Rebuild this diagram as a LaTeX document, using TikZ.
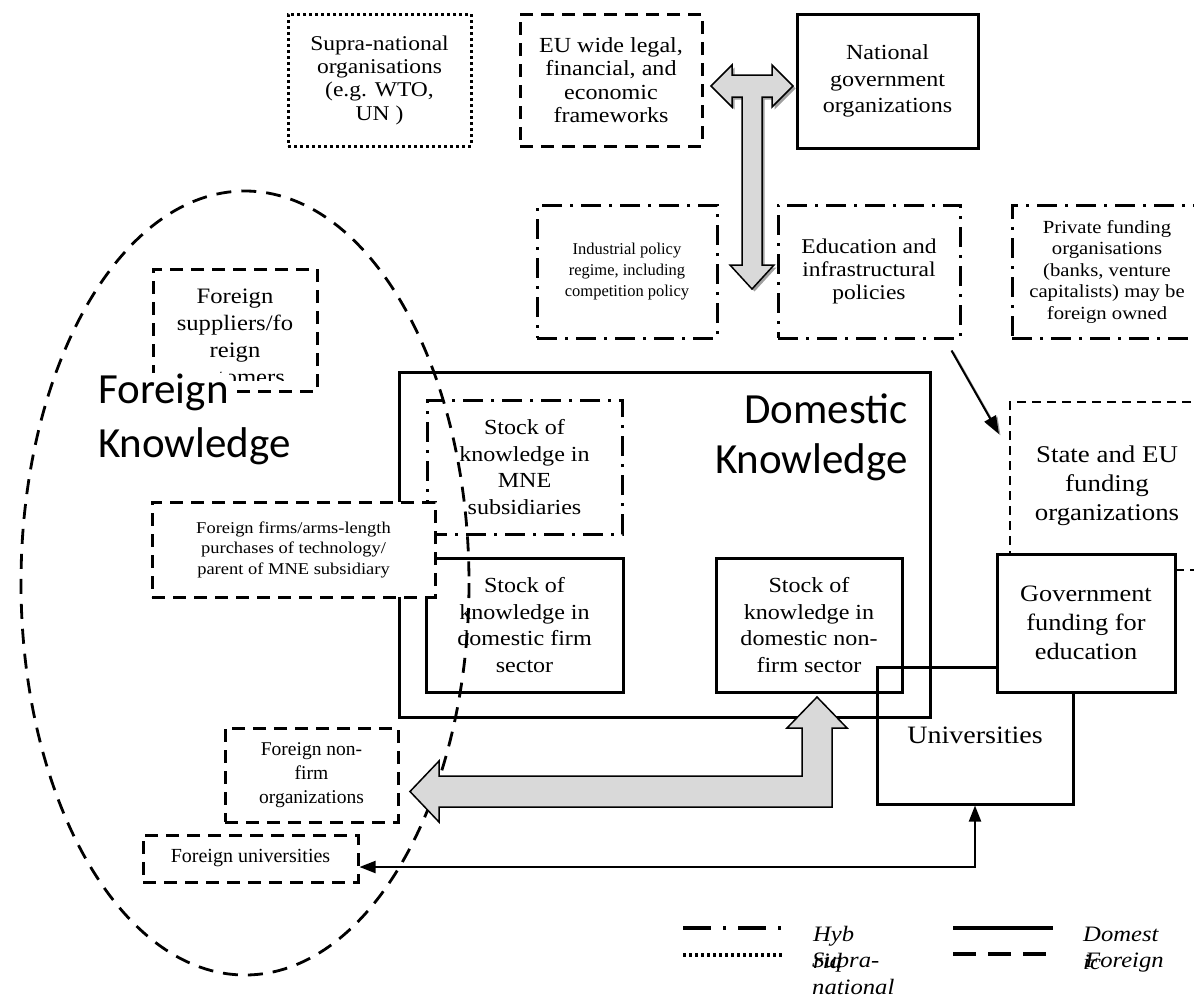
\documentclass[tikz,border=0pt]{standalone}
\usepackage{fontspec}
\setmainfont[FakeStretch=1.12]{Liberation Serif}
\newfontfamily\narrowserif{Liberation Serif}
\newfontfamily\labelsans{Carlito}
\usetikzlibrary{arrows.meta}
\definecolor{arrowgrey}{HTML}{D9D9D9}
\definecolor{shadowgrey}{HTML}{A0A0A0}

\tikzset{
  every node/.style={inner sep=0pt, align=center},
  boxsize/.style 2 args={minimum width=#1, minimum height=#2},
  domesticbox/.style={draw, line width=3pt},
  foreignbox/.style={draw, line width=3pt, dash pattern=on 13pt off 8pt},
  fundbox/.style={draw, line width=2pt, dash pattern=on 9pt off 6pt},
  hybridbox/.style={draw, line width=3pt, dash pattern=on 20pt off 8pt on 3pt off 8pt},
  suprabox/.style={draw, line width=3pt, dash pattern=on 3pt off 3pt},
  foreignline/.style={line width=2.8pt, dash pattern=on 15pt off 10pt},
  bigarrow/.style={fill=arrowgrey, draw=black, line width=1.5pt, line join=miter},
  thinarrow/.style={-{Triangle[length=18pt,width=13pt]}, line width=2pt},
  linkarrow/.style={{Triangle[length=16pt,width=12pt]}-{Triangle[length=16pt,width=12pt]}, line width=2pt},
  bigtext/.style={font=\labelsans\fontsize{43}{50}\selectfont},
  legendtext/.style={font=\itshape\fontsize{22}{27}\selectfont, anchor=base west},
}

% block arrow outlines
\newcommand\policyarrow{(711,86) -- (732,65) -- (732,75) -- (772,75) -- (772,65) -- (793,86)
  -- (772,107) -- (772,97) -- (762,97) -- (762,265) -- (774,265) -- (752,289) -- (730,265)
  -- (742,265) -- (742,97) -- (732,97) -- (732,107) -- cycle}
\newcommand\spilloverarrow{(817,697) -- (847,728) -- (832,728) -- (832,807) -- (439,807)
  -- (439,822) -- (410,791.5) -- (439,761) -- (439,776) -- (802,776) -- (802,728)
  -- (787,728) -- cycle}

\begin{document}
\begin{tikzpicture}[x=1pt, y=-1pt]
\useasboundingbox (0,0) rectangle (1194,1002);

% top row: frameworks and government
\node[suprabox, boxsize={183pt}{132pt}, font=\fontsize{21}{23.3}\selectfont] (supra) at (379.5,80)
  {Supra-national\\organisations\\(e.g. WTO,\\UN )};
\node[foreignbox, boxsize={182pt}{132pt}, font=\fontsize{21.5}{23.3}\selectfont] (euframe) at (611,80)
  {EU wide legal,\\financial, and\\economic\\frameworks};
\node[domesticbox, boxsize={181pt}{134pt}, font=\fontsize{21.5}{26.7}\selectfont] (natgov) at (887.5,81)
  {National\\government\\organizations};

% policy row
\node[hybridbox, boxsize={180pt}{133pt}, font=\narrowserif\fontsize{16.5}{21}\selectfont] (indpolicy) at (627,271.5)
  {Industrial policy\\regime, including\\competition policy};
\node[hybridbox, boxsize={182pt}{133pt}, font=\fontsize{21}{23.3}\selectfont] (edupolicy) at (869,271.5)
  {Education and\\infrastructural\\policies};
\node[hybridbox, boxsize={190pt}{133pt}, font=\fontsize{18.5}{21.5}\selectfont] (privfund) at (1107,271.5)
  {Private funding\\organisations\\(banks, venture\\capitalists) may be\\foreign owned};

% domestic knowledge
\node[domesticbox, boxsize={531pt}{345pt}] (domestic) at (664.5,544.5) {};
\node[bigtext, anchor=base east] (domlabel) at (908,423) {Domestic};
\node[bigtext, anchor=base east] (domlabelb) at (908,473) {Knowledge};
\node[hybridbox, boxsize={195pt}{134pt}, font=\fontsize{21.5}{26.5}\selectfont] (mnestock) at (524.5,467)
  {Stock of\\knowledge in\\MNE\\subsidiaries};
\node[domesticbox, boxsize={197pt}{134pt}, font=\fontsize{21.5}{26.5}\selectfont] (firmstock) at (524.5,625)
  {Stock of\\knowledge in\\domestic firm\\sector};
\node[domesticbox, boxsize={186pt}{134pt}, font=\fontsize{21.5}{26.5}\selectfont] (nonfirmstock) at (809,625)
  {Stock of\\knowledge in\\domestic non-\\firm sector};

% funding and universities
\node[domesticbox, boxsize={196pt}{137pt}, font=\fontsize{25}{29}\selectfont] (universities) at (975,735.5)
  {Universities};
\node[fundbox, boxsize={194pt}{168pt}, font=\fontsize{24}{29}\selectfont] (statefund) at (1107,486)
  {State and EU\\funding\\organizations};
\node[domesticbox, fill=white, boxsize={178pt}{138pt}, font=\fontsize{23.5}{29}\selectfont] (govfund) at (1086,623)
  {Government\\funding for\\education};

% foreign knowledge
\draw[foreignline] (245,583) ellipse [x radius=224, y radius=392];
\node[foreignbox, fill=white, boxsize={283pt}{95pt}, font=\fontsize{16.5}{20.5}\selectfont] (foreignfirms) at (293.5,549.5)
  {Foreign firms/arms-length\\purchases of technology/\\parent of MNE subsidiary};
\node[foreignbox, boxsize={164pt}{122pt}] (suppliers) at (235,330) {};
\begin{scope}
  \clip (suppliers.north west) rectangle ([yshift=12pt]suppliers.south east);
  \node[font=\fontsize{22}{27}\selectfont] (supplierstext) at (235,337)
    {Foreign\\suppliers/fo\\reign\\customers};
\end{scope}
\node[bigtext, anchor=base west, fill=white] (forlabel) at (98,403) {Foreign};
\node[bigtext, anchor=base west] (forlabelb) at (98,457) {Knowledge};
\node[foreignbox, boxsize={173pt}{94pt}, font=\narrowserif\fontsize{19.5}{24}\selectfont] (foreignnonfirm) at (311.5,775)
  {Foreign non-\\firm\\organizations};
\node[foreignbox, boxsize={215pt}{47pt}, font=\narrowserif\fontsize{20}{24}\selectfont] (foreignuni) at (250.5,858.5)
  {Foreign universities};

% block arrows
\fill[shadowgrey, shift={(2.5,2.5)}] \policyarrow;
\draw[bigarrow] \policyarrow;
\draw[bigarrow] \spilloverarrow;

% thin arrows
\draw[thinarrow, shadowgrey] ([xshift=-8.5pt,yshift=-12.5pt]edupolicy.south east)
  -- ([xshift=-8.5pt,yshift=-34.5pt]statefund.north west);
\draw[thinarrow] ([xshift=-10pt,yshift=-11pt]edupolicy.south east)
  -- ([xshift=-10pt,yshift=-33pt]statefund.north west);
\draw[linkarrow] (universities.south) |- ([yshift=-8.5pt]foreignuni.east);

% legend
\coordinate (hybkey) at (683,928);
\coordinate (suprakey) at (683,955);
\coordinate (domkey) at (953,928);
\coordinate (forkey) at (953,954);
\draw[line width=4pt, dash pattern=on 28pt off 12pt on 3pt off 12pt] (hybkey) -- ++(100,0);
\draw[line width=4pt, dash pattern=on 3pt off 3pt] (suprakey) -- ++(100,0);
\draw[line width=4pt] (domkey) -- ++(100,0);
\draw[line width=4pt, dash pattern=on 23pt off 12pt] (forkey) -- ++(93,0);
\node[legendtext] (hyblabel) at (813,941) {Hyb};
\node[legendtext] (hyblabelb) at (813,968) {rid};
\node[legendtext] (supralabel) at (812,967) {Supra-};
\node[legendtext] (supralabelb) at (812,994) {national};
\node[legendtext] (domkeylabel) at (1083,941) {Domest};
\node[legendtext] (domkeylabelb) at (1083,969) {ic};
\node[legendtext] (forkeylabel) at (1085,967) {Foreign};
\end{tikzpicture}
\end{document}
